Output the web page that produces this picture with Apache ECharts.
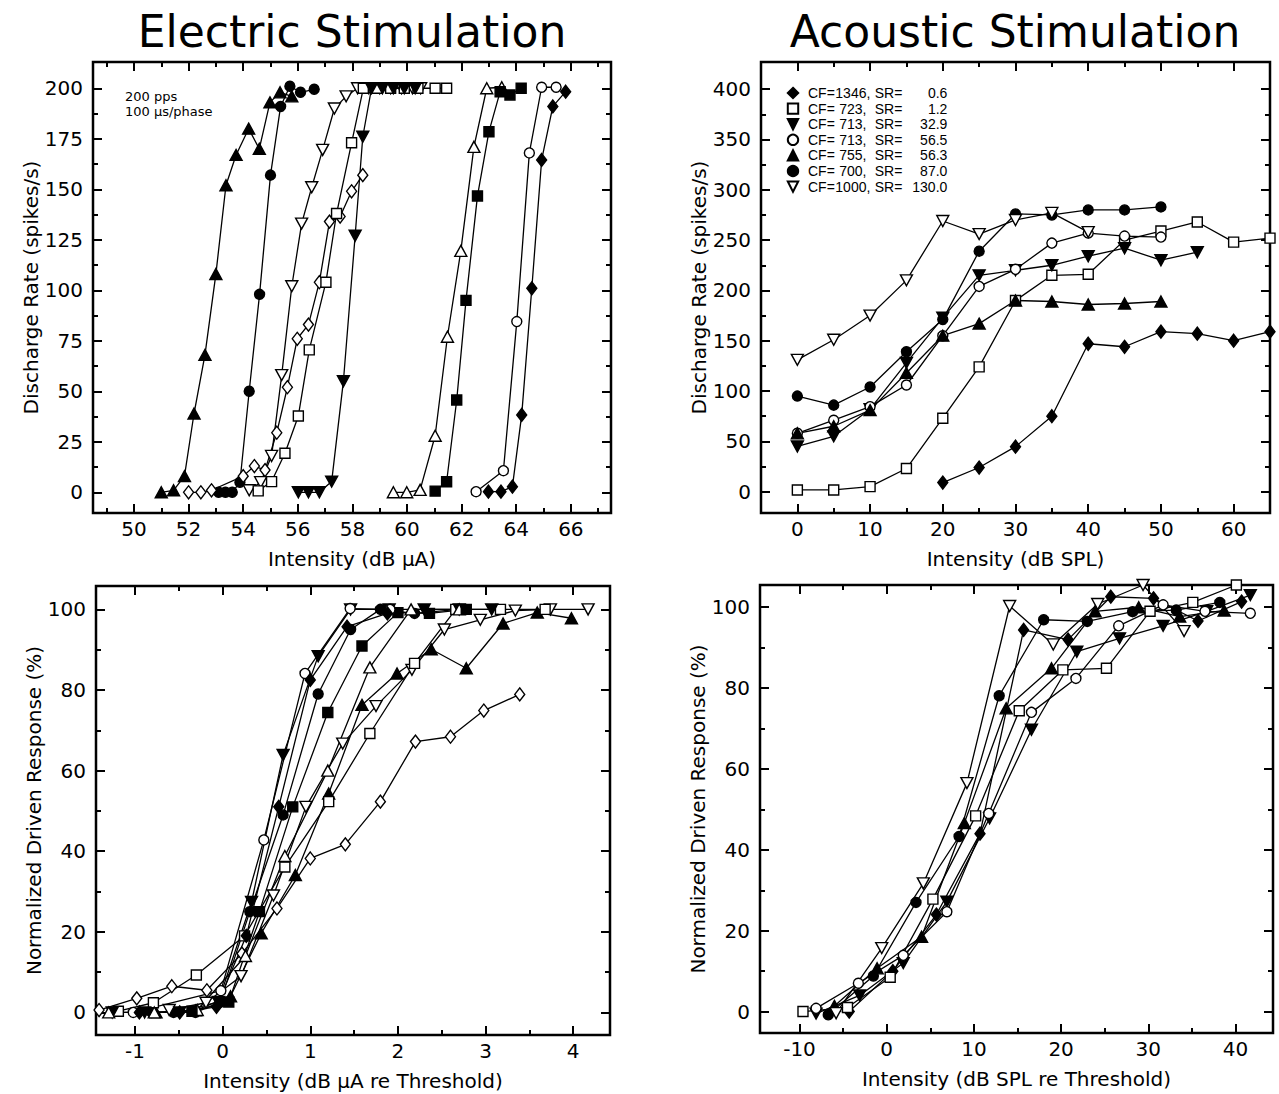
<!DOCTYPE html>
<html>
<head>
<meta charset="utf-8">
<script src="https://cdn.jsdelivr.net/npm/echarts@6/dist/echarts.min.js"></script>
<style>
  html, body { margin: 0; padding: 0; background: #fff; }
  #chart { width: 1279px; height: 1094px; }
</style>
</head>
<body>
<div id="chart"></div>
<script>
// ---------- Electric stimulation: discharge rate (spikes/s) vs intensity (dB re 1 uA) ----------
const elTriUpFill = [[51.0,0],[51.45,1],[51.85,8],[52.2,39],[52.6,68],[53.0,108],[53.37,152],[53.74,167],[54.2,180],[54.59,170],[54.98,193],[55.35,198],[55.78,196]];
const elCircFill  = [[53.1,0],[53.35,0],[53.6,0],[53.88,5],[54.22,50],[54.6,98],[55.0,157],[55.37,191],[55.71,201],[56.1,198],[56.6,199.5]];
const elDiaOpen   = [[52.0,0],[52.45,0],[52.84,1],[54.0,8],[54.41,13],[54.8,11],[55.23,29.5],[55.62,52],[55.98,76],[56.39,83],[56.79,104],[57.16,134],[57.55,136.5],[57.97,149],[58.38,157]];
const elTriDnOpen = [[54.22,1],[54.64,5],[55.04,18],[55.41,58],[55.78,102],[56.14,133],[56.51,151],[56.91,169.5],[57.34,190],[57.77,196],[58.19,200],[58.6,200],[59.0,200],[59.4,200],[59.8,200],[60.2,200],[60.5,200]];
const elSqOpen    = [[54.55,0.7],[55.04,5.3],[55.53,19.3],[56.02,37.8],[56.42,70.5],[57.03,104],[57.42,138],[57.97,173],[58.4,200],[58.9,200],[59.4,200],[59.9,200],[60.4,200],[61.03,200],[61.45,200]];
const elTriDnFill = [[56.02,0],[56.39,0],[56.79,0],[57.24,5.3],[57.67,55],[58.1,127],[58.38,176],[58.7,200],[59.1,200],[59.5,200],[59.9,200],[60.3,200]];
const elTriUpOpen = [[59.5,0],[59.99,0],[60.48,1.2],[61.03,28],[61.48,77],[61.97,119.5],[62.45,171],[62.92,200],[63.47,200.5]];
const elSqFill    = [[61.03,0.6],[61.45,5.2],[61.82,45.7],[62.16,95],[62.58,146.7],[63.0,178.5],[63.41,198.3],[63.77,196.7],[64.18,200]];
const elCircOpen  = [[62.53,0.3],[63.53,10.7],[64.02,84.5],[64.48,168],[64.93,200.5],[65.46,200.5]];
const elDiaFill   = [[62.98,0.3],[63.44,0.3],[63.86,2.8],[64.2,38.3],[64.57,101],[64.93,164.5],[65.34,191],[65.81,198.3]];

// ---------- Acoustic stimulation: discharge rate (spikes/s) vs intensity (dB SPL) ----------
const acCF = [1346, 723, 713, 713, 755, 700, 1000];
const acSR = [0.6, 1.2, 32.9, 56.5, 56.3, 87.0, 130.0];
const acDiaFill   = [[20,9],[25,24],[30,44.7],[35,75],[40,147],[45,144],[50,159],[55,157],[60,150],[65,159]];
const acSqOpen    = [[0,1.7],[5,1.7],[10,5],[15,23],[20,73],[25,124],[30,190],[35,215],[40,216],[45,250],[50,259],[55,268],[60,248],[65,252]];
const acTriDnFill = [[0,45],[5,55],[10,82],[15,128],[20,173],[25,215],[30,220],[35,225],[40,234],[45,242],[50,230],[55,238]];
const acCircOpen  = [[0,58],[5,71],[10,84.5],[15,106],[20,155],[25,204],[30,221],[35,247],[40,257],[45,254],[50,253]];
const acTriUpFill = [[0,58],[5,65],[10,81],[15,118],[20,155],[25,167],[30,190],[35,189],[40,186],[45,187],[50,189]];
const acCircFill  = [[0,95],[5,86],[10,104],[15,139],[20,171],[25,239],[30,276],[35,275],[40,280],[45,280],[50,283]];
const acTriDnOpen = [[0,131],[5,151],[10,175],[15,210],[20,269],[25,256],[30,270],[35,277],[40,258]];

// ---------- Electric, normalized driven response (%) vs dB re threshold ----------
const enTriUpFill = [[-0.76,0],[-0.31,0.5],[0.09,4],[0.44,19.6],[0.83,34.1],[1.21,54.3],[1.59,76.3],[1.99,84.1],[2.38,90.1],[2.78,85.4],[3.2,96.5],[3.59,99.2],[3.98,97.8]];
const enCircFill  = [[-0.81,0],[-0.56,0],[-0.31,0],[-0.03,2.5],[0.31,25],[0.69,49],[1.09,79],[1.46,95],[1.8,100],[2.19,99],[2.69,100]];
const enDiaOpen   = [[-1.41,0.6],[-0.98,3.5],[-0.58,6.5],[-0.18,5.5],[0.22,14.6],[0.62,25.8],[1.0,38.2],[1.4,41.7],[1.8,52.3],[2.2,67.2],[2.6,68.4],[2.98,74.9],[3.39,78.9]];
const enTriDnOpen = [[-0.61,0.6],[-0.19,2.4],[0.21,9],[0.58,29],[0.95,51],[1.37,66.7],[1.75,76],[2.16,85],[2.53,95],[2.94,97.4],[3.34,99.7],[3.74,100],[4.17,100]];
const enSqOpen    = [[-1.19,0.3],[-0.79,2.4],[-0.3,9.3],[0.25,19],[0.71,36.1],[1.21,52.3],[1.68,69.2],[2.19,86.6],[2.66,100],[3.17,100],[3.68,100]];
const enTriDnFill = [[-1.26,0],[-0.89,0],[-0.49,0],[-0.05,2.6],[0.33,27.4],[0.69,63.9],[1.09,88.4],[1.46,100],[1.9,100],[2.3,100],[2.7,100],[3.07,100]];
const enTriUpOpen = [[-1.3,0],[-0.78,0],[-0.29,0.6],[0.26,14],[0.71,38.8],[1.2,60],[1.68,85.6],[2.15,100],[2.7,100]];
const enSqFill    = [[-0.35,0.3],[0.07,2.6],[0.42,25],[0.8,51],[1.2,74.4],[1.59,90.9],[2.0,99.2],[2.36,99],[2.78,100]];
const enCircOpen  = [[-1.02,0],[-0.02,5.4],[0.47,42.8],[0.94,84.1],[1.455,100.2],[1.91,100]];
const enDiaFill   = [[-0.95,0],[-0.49,0],[-0.07,1.4],[0.27,19],[0.64,51],[1.0,82.5],[1.42,95.7],[1.88,99]];

// ---------- Acoustic, normalized driven response (%) vs dB SPL re threshold ----------
const anDiaFill   = [[-4.3,0],[0.7,10],[5.7,24],[10.7,44],[15.7,94.4],[20.8,92],[25.7,102.6],[30.6,102.2],[35.7,96.6],[40.7,101.4]];
const anSqOpen    = [[-9.6,0],[-4.5,1],[0.4,8.5],[5.3,27.8],[10.2,48.4],[15.2,74.4],[20.2,84.5],[25.2,84.9],[30.2,99],[35.1,101.2],[40.1,105.5]];
const anTriDnFill = [[-8.1,-0.5],[-3.1,4],[1.9,12],[6.9,27.2],[11.8,47.8],[16.6,69.7],[21.8,89],[26.7,92.3],[31.7,95.4],[36.7,99],[41.7,103]];
const anCircOpen  = [[-8.1,0.8],[-3.25,7],[1.9,13.9],[6.9,24.7],[11.7,49],[16.6,74],[21.7,82.4],[26.6,95.4],[31.7,100.6],[36.5,99],[41.7,98.5]];
const anTriUpFill = [[-6,1.4],[-1.1,10.7],[4.0,18.5],[8.9,46.6],[13.7,75],[18.9,84.9],[23.9,99],[28.9,100],[33.6,97.7],[38.7,99.2]];
const anCircFill  = [[-6.7,-0.8],[-1.53,8.8],[3.36,27],[8.3,43.3],[12.9,78.1],[18.0,96.9],[23.0,96.5],[28.2,98.9],[33.2,99.3],[38.2,101.2]];
const anTriDnOpen = [[-5.8,-0.4],[-0.57,15.7],[4.2,31.7],[9.2,56.5],[14.1,100.3],[19.1,90.8],[24.2,100.8],[29.4,105.5],[34.1,94.1]];

// ---------- Tick positions (labelled / unlabelled) ----------
const elRateTicks  = [0,25,50,75,100,125,150,175,200];
const elRateMinor  = [12.5,37.5,62.5,87.5,112.5,137.5,162.5,187.5];
const elDbTicks    = [50,52,54,56,58,60,62,64,66];
const elDbMinor    = [49,51,53,55,57,59,61,63,65,67];
const acRateTicks  = [0,50,100,150,200,250,300,350,400];
const acRateMinor  = [25,75,125,175,225,275,325,375];
const acDbTicks    = [0,10,20,30,40,50,60];
const acDbMinor    = [5,15,25,35,45,55];
const normTicks    = [0,20,40,60,80,100];
const normMinor    = [10,30,50,70,90];
const elReTicks    = [-1,0,1,2,3,4];
const elReMinor    = [-0.5,0.5,1.5,2.5,3.5];
const acReTicks    = [-10,0,10,20,30,40];
const acReMinor    = [-5,5,15,25,35];

const FONT = 'DejaVu Sans';
const INK = '#000';

const SHAPES = {
  triUp: { symbol: 'triangle', size: [12, 11] },
  triDn: { symbol: 'path://M0,0L10,0L5,8.7Z', size: [12, 11] },
  circ:  { symbol: 'circle', size: 10 },
  sq:    { symbol: 'rect', size: 10 },
  dia:   { symbol: 'diamond', size: [10, 13] }
};

function series(name, data, shape, filled, gi) {
  const s = SHAPES[shape];
  return {
    type: 'line', name, data,
    xAxisIndex: gi * 4, yAxisIndex: gi * 4,
    symbol: s.symbol, symbolSize: s.size, showSymbol: true,
    clip: false, silent: true, animation: false,
    lineStyle: { color: INK, width: 1.3 },
    itemStyle: { color: filled ? INK : '#fff', borderColor: INK, borderWidth: 1.4, opacity: 1 }
  };
}

function axisSet(gi, dim, min, max, major, minor, name, nameGap) {
  const isX = dim === 'x';
  const pos = isX ? ['bottom', 'top'] : ['left', 'right'];
  const base = {
    type: 'value', gridIndex: gi, min, max,
    axisLine: { show: false, onZero: false }, splitLine: { show: false }
  };
  const tick = (vals, len) => ({ show: true, inside: true, length: len, customValues: vals,
                                 lineStyle: { color: INK, width: 2 } });
  return [
    Object.assign({}, base, {
      position: pos[0], axisTick: tick(major, 9),
      axisLabel: { show: true, customValues: major, color: INK, fontFamily: FONT, fontSize: 20,
                   margin: isX ? 6 : 10, formatter: v => String(v) },
      name, nameLocation: 'middle', nameGap, nameRotate: isX ? 0 : 90,
      nameTextStyle: { color: INK, fontFamily: FONT, fontSize: 20 }
    }),
    Object.assign({}, base, { position: pos[0], axisTick: tick(minor, 5), axisLabel: { show: false } }),
    Object.assign({}, base, { position: pos[1], axisTick: tick(major, 9), axisLabel: { show: false } }),
    Object.assign({}, base, { position: pos[1], axisTick: tick(minor, 5), axisLabel: { show: false } })
  ];
}

const gridStyle = { show: true, borderColor: INK, borderWidth: 2.5, backgroundColor: 'transparent' };
const grids = [
  Object.assign({ left: 93,  top: 62,  width: 518, height: 451 }, gridStyle),
  Object.assign({ left: 761, top: 62,  width: 509, height: 451 }, gridStyle),
  Object.assign({ left: 96,  top: 586, width: 514, height: 449 }, gridStyle),
  Object.assign({ left: 760, top: 585, width: 513, height: 448 }, gridStyle)
];

const xAxes = [].concat(
  axisSet(0, 'x', 48.5, 67.47, elDbTicks, elDbMinor, 'Intensity (dB \u03bcA)', 36),
  axisSet(1, 'x', -5, 65, acDbTicks, acDbMinor, 'Intensity (dB SPL)', 36),
  axisSet(2, 'x', -1.445, 4.42, elReTicks, elReMinor, 'Intensity (dB \u03bcA re Threshold)', 36),
  axisSet(3, 'x', -14.53, 44.3, acReTicks, acReMinor, 'Intensity (dB SPL re Threshold)', 36)
);
const yAxes = [].concat(
  axisSet(0, 'y', -10.25, 213, elRateTicks, elRateMinor, 'Discharge Rate (spikes/s)', 52),
  axisSet(1, 'y', -21.2, 427, acRateTicks, acRateMinor, 'Discharge Rate (spikes/s)', 52),
  axisSet(2, 'y', -5.6, 105.8, normTicks, normMinor, 'Normalized Driven Response (%)', 52),
  axisSet(3, 'y', -5.3, 105.5, normTicks, normMinor, 'Normalized Driven Response (%)', 52)
);

const acNames = acCF.map((cf, i) => 'CF=' + cf + ', SR=' + acSR[i].toFixed(1));

const allSeries = [
  series('el1', elTriUpFill, 'triUp', true, 0),
  series('el2', elCircFill, 'circ', true, 0),
  series('el3', elDiaOpen, 'dia', false, 0),
  series('el4', elTriDnOpen, 'triDn', false, 0),
  series('el5', elSqOpen, 'sq', false, 0),
  series('el6', elTriDnFill, 'triDn', true, 0),
  series('el7', elTriUpOpen, 'triUp', false, 0),
  series('el8', elSqFill, 'sq', true, 0),
  series('el9', elCircOpen, 'circ', false, 0),
  series('el10', elDiaFill, 'dia', true, 0),

  series(acNames[0], acDiaFill, 'dia', true, 1),
  series(acNames[1], acSqOpen, 'sq', false, 1),
  series(acNames[2], acTriDnFill, 'triDn', true, 1),
  series(acNames[3], acCircOpen, 'circ', false, 1),
  series(acNames[4], acTriUpFill, 'triUp', true, 1),
  series(acNames[5], acCircFill, 'circ', true, 1),
  series(acNames[6], acTriDnOpen, 'triDn', false, 1),

  series('en1', enTriUpFill, 'triUp', true, 2),
  series('en2', enCircFill, 'circ', true, 2),
  series('en3', enDiaOpen, 'dia', false, 2),
  series('en4', enTriDnOpen, 'triDn', false, 2),
  series('en5', enSqOpen, 'sq', false, 2),
  series('en6', enTriDnFill, 'triDn', true, 2),
  series('en7', enTriUpOpen, 'triUp', false, 2),
  series('en8', enSqFill, 'sq', true, 2),
  series('en9', enCircOpen, 'circ', false, 2),
  series('en10', enDiaFill, 'dia', true, 2),

  series('an1', anDiaFill, 'dia', true, 3),
  series('an2', anSqOpen, 'sq', false, 3),
  series('an3', anTriDnFill, 'triDn', true, 3),
  series('an4', anCircOpen, 'circ', false, 3),
  series('an5', anTriUpFill, 'triUp', true, 3),
  series('an6', anCircFill, 'circ', true, 3),
  series('an7', anTriDnOpen, 'triDn', false, 3)
];

const LEG = { fontFamily: 'Liberation Sans', fontSize: 14, lineHeight: 14, color: INK };

const chart = echarts.init(document.getElementById('chart'), null, { renderer: 'svg' });
chart.setOption({
  backgroundColor: '#fff',
  animation: false,
  grid: grids,
  xAxis: xAxes,
  yAxis: yAxes,
  legend: {
    data: acNames,
    orient: 'vertical', left: 778, top: 81,
    itemWidth: 20, itemHeight: 13, itemGap: 1.6,
    selectedMode: false,
    lineStyle: { width: 0, opacity: 0 },
    formatter: name => {
      const i = acNames.indexOf(name);
      return '{k|CF=}{cf|' + acCF[i] + ',}{k| SR=}{sr|' + acSR[i].toFixed(1) + '}';
    },
    textStyle: Object.assign({}, LEG, {
      rich: {
        k:  Object.assign({}, LEG),
        cf: Object.assign({ width: 36, align: 'right' }, LEG),
        sr: Object.assign({ width: 45, align: 'right' }, LEG)
      }
    })
  },
  graphic: [
    { type: 'text', x: 352, y: 31, style: { text: 'Electric Stimulation', font: '44px "DejaVu Sans"', fill: INK, align: 'center', verticalAlign: 'middle' } },
    { type: 'text', x: 1015, y: 31, style: { text: 'Acoustic Stimulation', font: '44px "DejaVu Sans"', fill: INK, align: 'center', verticalAlign: 'middle' } },
    { type: 'text', x: 125, y: 89, style: { text: '200 pps\n100 \u03bcs/phase', font: '13px "DejaVu Sans"', fill: INK, lineHeight: 15 } }
  ],
  series: allSeries
});
</script>
</body>
</html>
